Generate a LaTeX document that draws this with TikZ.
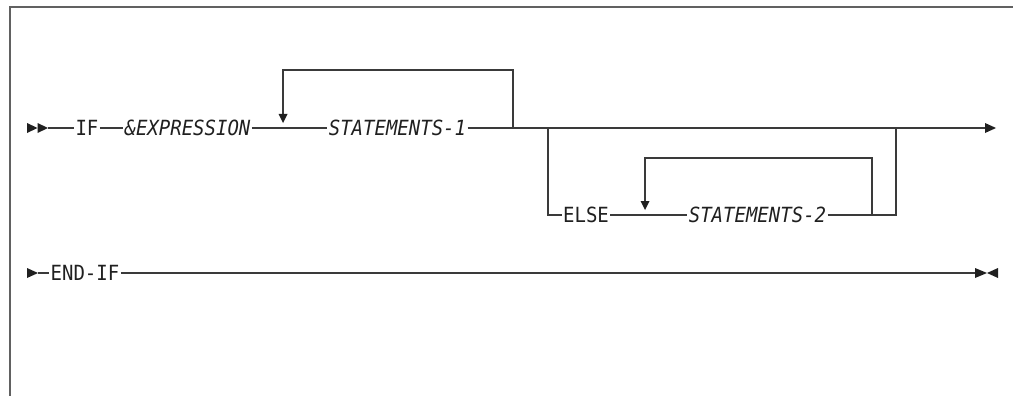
\documentclass[tikz,border=0pt]{standalone}
\usepackage{fontspec}
\usepackage{graphicx}
\newfontfamily\dmono{DejaVu Sans Mono}
\definecolor{ln}{HTML}{3A3A3A}
\definecolor{tx}{HTML}{202020}
\newcommand{\tallt}[1]{\scalebox{1}[1.1]{#1}}
\tikzset{
  kw/.style={inner sep=0pt, outer sep=1.5pt, text=tx, font=\dmono\fontsize{19}{19}\selectfont, anchor=center},
  var/.style={kw, font=\dmono\itshape\fontsize{19}{19}\selectfont},
  rail/.style={draw=ln, line width=1.2pt},
  frameline/.style={draw=ln!80, line width=1.8pt},
  tri/.style={fill=tx, draw=none}
}
\begin{document}
\begin{tikzpicture}[x=1pt,y=-1pt]
\useasboundingbox (0,0) rectangle (1013,396);
% frame
\draw[frameline] (10,396) -- (10,7) -- (1013,7);

% ---------- first line ----------
\coordinate (st) at (48,128);
\fill[tri] (27,123) -- (37.5,128) -- (27,133) -- cycle;
\fill[tri] (37.5,123) -- (48,128) -- (37.5,133) -- cycle;

\node[kw]  (if)  at (87,128) {\tallt{IF}};
\node[var] (exp) at (187.5,128) {\tallt{\&EXPRESSION}};
\node[var] (s1)  at (397.5,128) {\tallt{STATEMENTS-1}};

\coordinate (l1l) at (283,128);
\coordinate (l1r) at (513,128);
\coordinate (bl)  at (548,128);
\coordinate (br)  at (896,128);
\coordinate (en)  at (985,128);

\draw[rail] (st) -- (if.west);
\draw[rail] (if.east) -- (exp.west);
\draw[rail] (exp.east) -- (s1.west);
\draw[rail] (s1.east) -- (en);
% loop 1
\draw[rail] (l1r) -- (513,70) -- (283,70) -- (283,116);
\fill[tri] (278.5,114) -- (287.5,114) -- (283,123) -- cycle;
% end arrow
\fill[tri] (985,123) -- (996,128) -- (985,133) -- cycle;

% ---------- ELSE branch ----------
\node[kw]  (else) at (586,215) {\tallt{ELSE}};
\node[var] (s2)   at (757.5,215) {\tallt{STATEMENTS-2}};
\coordinate (l2l) at (645,215);
\coordinate (l2r) at (872,215);
\coordinate (bre) at (896,215);

\draw[rail] (bl) -- (548,215) -- (else.west);
\draw[rail] (else.east) -- (s2.west);
\draw[rail] (s2.east) -- (bre) -- (br);
% loop 2
\draw[rail] (l2r) -- (872,158) -- (645,158) -- (645,202);
\fill[tri] (640.5,201) -- (649.5,201) -- (645,210) -- cycle;

% ---------- second line ----------
\fill[tri] (27,268) -- (38,273) -- (27,278) -- cycle;
\coordinate (st2) at (38,273);
\node[kw] (endif) at (85,273) {\tallt{END-IF}};
\coordinate (en2) at (975,273);
\draw[rail] (st2) -- (endif.west);
\draw[rail] (endif.east) -- (en2);
\fill[tri] (975,268) -- (987,273) -- (975,278) -- cycle;
\fill[tri] (998,268) -- (987,273) -- (998,278) -- cycle;
\end{tikzpicture}
\end{document}
